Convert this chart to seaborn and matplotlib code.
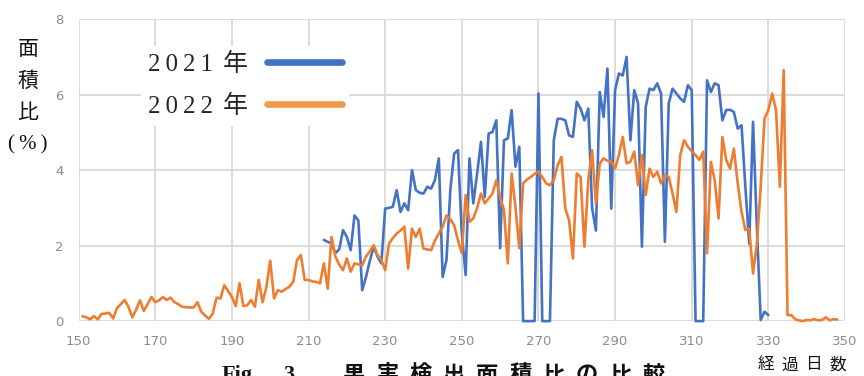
import pandas as pd
import seaborn as sns
import matplotlib.pyplot as plt
from matplotlib.lines import Line2D

# daily detected-area ratio (%)
days_2021 = list(range(214, 331))
area_2021 = [
    2.15, 2.10, 2.06, 1.80, 1.90, 2.41, 2.23, 1.88, 2.80, 2.67,
    0.82, 1.17, 1.60, 1.97, 1.71, 1.53, 2.98, 3.00, 3.03, 3.47,
    2.89, 3.12, 2.94, 4.00, 3.47, 3.40, 3.38, 3.56, 3.51, 3.74,
    4.31, 1.17, 1.62, 3.47, 4.44, 4.53, 2.32, 1.22, 4.31, 3.12,
    3.91, 4.75, 3.29, 4.97, 5.01, 5.32, 1.93, 4.79, 4.84, 5.59,
    4.09, 4.62, 0.00, 0.00, 0.00, 0.00, 6.03, 0.00, 0.00, 0.00,
    4.79, 5.36, 5.36, 5.32, 4.92, 4.88, 5.81, 5.63, 5.32, 5.63,
    3.00, 2.40, 6.07, 5.41, 6.69, 2.98, 6.12, 6.56, 6.51, 7.00,
    4.79, 6.12, 5.77, 1.97, 5.68, 6.16, 6.12, 6.30, 6.03, 2.10,
    5.77, 6.16, 6.03, 5.90, 5.81, 6.25, 6.12, 0.00, 0.00, 0.00,
    6.38, 6.07, 6.30, 6.25, 5.32, 5.59, 5.60, 5.54, 5.10, 5.19,
    3.56, 2.05, 5.28, 2.50, 0.03, 0.25, 0.16,
]

days_2022 = list(range(151, 349))
area_2022 = [
    0.13, 0.10, 0.05, 0.13, 0.05, 0.19, 0.20, 0.22, 0.07, 0.34,
    0.45, 0.56, 0.38, 0.10, 0.30, 0.55, 0.27, 0.45, 0.64, 0.50,
    0.55, 0.64, 0.56, 0.62, 0.50, 0.45, 0.38, 0.37, 0.36, 0.36,
    0.50, 0.25, 0.15, 0.06, 0.20, 0.62, 0.60, 0.95, 0.80, 0.64,
    0.40, 1.00, 0.40, 0.42, 0.56, 0.38, 1.09, 0.50, 0.90, 1.60,
    0.60, 0.82, 0.78, 0.85, 0.91, 1.04, 1.62, 1.75, 1.09, 1.09,
    1.05, 1.04, 1.00, 1.53, 0.86, 2.23, 1.71, 1.50, 1.35, 1.66,
    1.31, 1.53, 1.50, 1.48, 1.71, 1.85, 2.01, 1.75, 1.62, 1.35,
    2.05, 2.20, 2.32, 2.40, 2.50, 1.39, 2.45, 2.23, 2.45, 1.92,
    1.90, 1.88, 2.14, 2.32, 2.50, 2.80, 2.70, 2.54, 2.14, 1.80,
    3.34, 2.63, 2.72, 3.00, 3.38, 3.12, 3.25, 3.38, 3.73, 3.29,
    2.94, 1.53, 3.91, 3.03, 1.93, 3.65, 3.75, 3.82, 3.90, 3.96,
    3.82, 3.65, 3.60, 3.73, 4.13, 4.35, 2.98, 2.67, 1.66, 3.91,
    3.82, 1.97, 3.73, 4.53, 3.12, 4.18, 4.31, 4.25, 4.22, 4.04,
    4.40, 4.88, 4.18, 4.22, 4.49, 3.60, 4.40, 3.34, 4.04, 3.82,
    3.96, 3.65, 3.87, 3.82, 3.38, 2.89, 4.40, 4.79, 4.62, 4.50,
    4.40, 4.27, 4.49, 1.80, 4.22, 3.73, 2.72, 4.88, 4.27, 4.04,
    4.57, 3.65, 2.90, 2.41, 2.45, 1.26, 2.05, 3.56, 5.37, 5.59,
    6.03, 5.59, 3.56, 6.65, 0.16, 0.16, 0.05, 0.02, 0.00, 0.03,
    0.02, 0.05, 0.02, 0.03, 0.10, 0.02, 0.05, 0.04,
]

years = ["2\u20090\u20092\u20091\u2009\u2009年", "2\u20090\u20092\u20092\u2009\u2009年"]
colors = ["#4472C4", "#ED7D31"]
x_ticks = list(range(150, 351, 20))
y_ticks = [0, 2, 4, 6, 8]

sns.set_theme(style="white")
plt.rcParams["font.family"] = ["DejaVu Sans"]

df = pd.concat([
    pd.DataFrame({"day": days_2021, "area": area_2021, "year": years[0]}),
    pd.DataFrame({"day": days_2022, "area": area_2022, "year": years[1]}),
])

fig = plt.figure(figsize=(8.64, 3.76), dpi=100)
ax = fig.add_axes([0.091, 0.146, 0.887, 0.803])

sns.lineplot(
    data=df, x="day", y="area", hue="year",
    palette=dict(zip(years, colors)), linewidth=1.9,
    estimator=None, legend=False, ax=ax,
)
# keep the flat zero stretches fully visible on the bottom gridline
for line in ax.lines:
    line.set_clip_on(False)

ax.set_xlim(150, 350)
ax.set_ylim(0, 8)
ax.set_xticks(x_ticks)
ax.set_yticks(y_ticks)
ax.set_xlabel("")
ax.set_ylabel("")
ax.grid(True, color="#d9d9d9", linewidth=1.3)
ax.set_axisbelow(True)
for s in ax.spines.values():
    s.set_visible(False)
ax.tick_params(axis="both", length=0, labelsize=9.5, labelcolor="#8c8c8c")
ax.tick_params(axis="y", pad=11)
ax.tick_params(axis="x", pad=10)

# legend: text first, line after it
serif_jp = ["Liberation Serif", "Noto Sans CJK JP", "DejaVu Sans"]
handles = [Line2D([], [], color=c, lw=4.8) for c in ["#4472C4", "#F39A4A"]]
leg = ax.legend(
    handles, years, loc="upper left",
    bbox_to_anchor=(128 / 864, 1 - 33 / 376), bbox_transform=fig.transFigure,
    markerfirst=False, frameon=True, facecolor="white", edgecolor="none",
    fancybox=False, framealpha=1, handlelength=3.0, handletextpad=0.75,
    labelspacing=0.75, borderpad=0.3,
    prop={"family": serif_jp, "size": 18},
)

# y axis title, stacked vertically
for ch, y in zip(["面", "積", "比"], [49, 81, 113]):
    fig.text(28 / 864, 1 - y / 376, ch, ha="center", va="center",
             family=["Noto Sans CJK JP"], fontsize=15, color="#111111")
fig.text(28 / 864, 1 - 145 / 376, "(\u2009%\u2009)", ha="center", va="center",
         family=serif_jp, fontsize=15, color="#111111")

# x axis title, spaced characters
for i, ch in enumerate("経過日数"):
    fig.text((765.5 + 24 * i) / 864, 1 - 365 / 376, ch, ha="center", va="center",
             family=["Noto Sans CJK JP"], fontsize=12, color="#111111")

# caption, cut off at the bottom edge as in the source figure
cap_y = 1 - 375 / 376
fig.text(222 / 864, cap_y, "Fig.", ha="left", va="center",
         family=["Liberation Serif"], fontweight="bold", fontsize=16, color="#111111")
fig.text(283 / 864, cap_y, "3", ha="left", va="center",
         family=["Liberation Serif"], fontweight="bold", fontsize=16, color="#111111")
for i, ch in enumerate("果実検出面積比の比較"):
    fig.text((354 + 33.3 * i) / 864, cap_y, ch, ha="center", va="center",
             family=["Noto Sans CJK JP"], fontweight="bold", fontsize=16, color="#111111")

fig.savefig("out.png", dpi=100)
